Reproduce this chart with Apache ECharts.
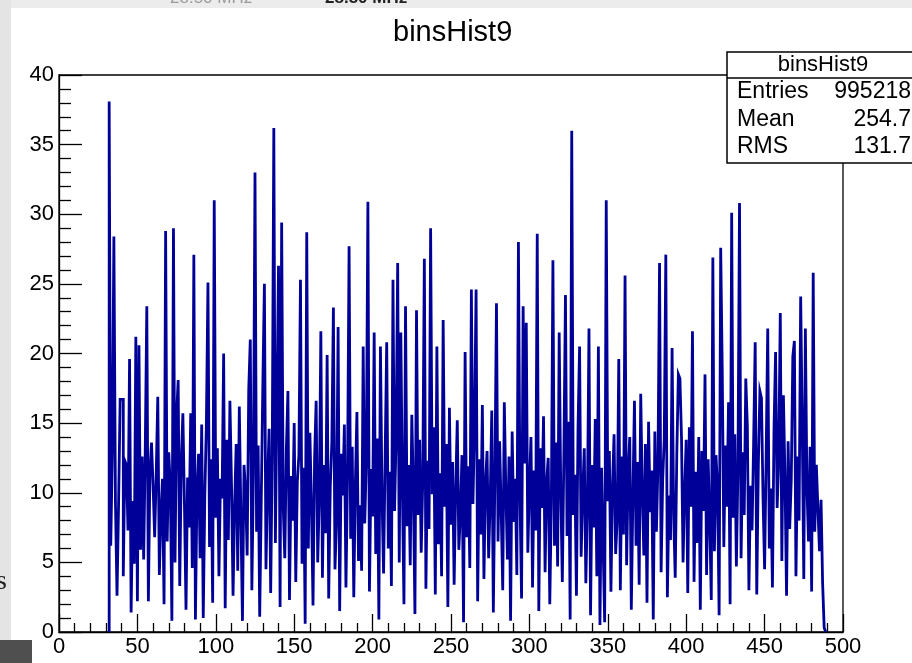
<!DOCTYPE html>
<html><head><meta charset="utf-8">
<script src="https://cdn.jsdelivr.net/npm/echarts@6.0.0/dist/echarts.min.js"></script>
<style>html,body{margin:0;padding:0;background:#fff;overflow:hidden}#c{width:912px;height:663px}</style>
</head><body><div id="c"></div>
<script>
const chartTitle = 'binsHist9';
const firstBin = 32;
const binWidth = 1;
const counts = [
38.1, 6.2, 12.8, 28.4, 9.3, 2.6, 9.2, 16.7, 16.7, 4.0,
12.3, 12.0, 7.3, 19.6, 1.4, 9.4, 4.9, 21.2, 2.2, 20.6,
5.9, 12.6, 5.2, 13.0, 23.4, 2.2, 11.6, 13.6, 10.5, 6.8,
11.3, 16.9, 4.1, 8.5, 11.0, 2.0, 28.8, 6.5, 12.9, 10.5,
0.8, 29.0, 5.0, 15.6, 18.1, 3.3, 12.3, 15.7, 9.2, 1.6,
11.1, 7.5, 15.7, 4.6, 27.1, 0.9, 10.0, 12.8, 5.3, 14.9,
1.0, 9.8, 15.0, 25.1, 6.1, 12.4, 2.1, 31.0, 8.2, 13.2,
4.0, 11.0, 9.6, 20.0, 1.7, 13.8, 6.6, 16.6, 10.7, 2.6,
9.1, 13.5, 4.4, 16.2, 8.3, 0.8, 12.0, 10.1, 5.5, 17.4,
21.0, 3.0, 11.5, 33.0, 7.2, 13.4, 1.1, 9.5, 17.8, 25.0,
4.5, 10.6, 14.6, 2.8, 12.9, 36.2, 6.4, 16.5, 26.3, 1.8,
29.4, 9.0, 5.3, 13.1, 17.3, 2.3, 11.2, 8.0, 15.0, 3.6,
10.8, 12.7, 25.3, 4.9, 11.8, 0.6, 28.7, 6.0, 14.3, 9.2,
1.9, 12.5, 16.6, 5.0, 9.6, 21.6, 3.9, 12.0, 7.1, 19.9,
2.4, 10.4, 13.6, 23.3, 4.5, 8.0, 21.9, 1.5, 12.8, 9.8,
14.9, 3.2, 11.1, 27.7, 6.7, 13.3, 2.5, 10.6, 15.8, 5.1,
9.1, 4.4, 20.5, 7.8, 12.4, 30.9, 2.9, 11.7, 8.3, 21.5,
5.6, 13.9, 0.9, 20.5, 9.7, 4.2, 12.6, 20.8, 6.0, 11.5,
3.3, 25.3, 8.7, 14.1, 26.5, 5.0, 21.5, 10.3, 2.0, 23.4,
7.6, 12.0, 4.8, 15.6, 10.2, 1.3, 23.1, 8.4, 13.8, 5.7,
10.9, 26.8, 3.1, 12.3, 7.4, 29.0, 9.9, 14.7, 2.7, 20.5,
6.3, 11.4, 4.0, 22.4, 9.0, 13.5, 1.8, 16.1, 7.7, 12.2,
3.4, 10.3, 15.2, 5.9, 8.6, 12.7, 0.7, 20.1, 6.8, 11.9,
4.6, 24.6, 9.2, 14.8, 24.6, 2.2, 12.4, 7.0, 16.3, 3.8,
10.7, 13.0, 5.3, 9.5, 15.9, 1.4, 11.2, 23.6, 6.5, 13.7,
8.8, 3.0, 16.5, 10.0, 5.2, 12.6, 0.8, 14.4, 7.9, 11.0,
4.1, 28.0, 9.6, 2.4, 23.4, 12.1, 22.2, 5.7, 10.4, 14.0,
3.2, 11.6, 7.3, 28.6, 1.5, 13.2, 8.9, 15.5, 4.3, 10.8,
12.5, 2.0, 9.3, 26.7, 6.2, 13.6, 4.7, 21.5, 10.1, 3.6,
12.9, 24.2, 6.9, 15.1, 0.9, 36.0, 8.4, 11.3, 2.6, 14.6,
20.5, 5.4, 10.0, 13.2, 3.5, 9.1, 21.8, 1.2, 12.0, 7.5,
15.3, 4.0, 20.5, 0.5, 11.8, 6.3, 0.7, 31.0, 9.4, 13.0,
2.9, 10.5, 14.2, 5.6, 8.1, 19.6, 3.0, 12.6, 7.0, 25.6,
4.8, 11.4, 14.0, 1.6, 9.7, 16.6, 6.2, 12.2, 3.4, 17.1,
10.0, 5.5, 13.5, 2.1, 15.1, 8.6, 11.6, 0.9, 14.4, 7.2,
12.0, 26.5, 4.3, 10.9, 13.9, 27.1, 2.5, 9.8, 6.6, 20.4,
8.4, 3.9, 12.7, 18.5, 18.2, 14.0, 5.0, 10.2, 13.8, 2.8,
14.7, 9.0, 21.6, 3.6, 11.5, 6.4, 14.0, 1.6, 13.0, 8.7,
18.5, 4.1, 12.4, 7.9, 2.3, 26.9, 5.8, 12.7, 10.3, 1.2,
27.6, 18.7, 6.1, 13.4, 9.0, 16.5, 2.0, 30.1, 8.2, 14.2,
4.7, 11.6, 30.8, 5.3, 12.9, 8.4, 18.2, 14.8, 3.0, 10.5,
7.3, 13.6, 20.8, 2.7, 11.9, 17.3, 16.8, 9.6, 4.5, 12.8,
21.8, 6.0, 10.3, 3.2, 14.6, 20.1, 8.9, 12.4, 22.9, 5.1,
17.0, 11.0, 2.6, 13.7, 7.4, 10.9, 19.8, 20.9, 4.0, 12.6,
8.0, 24.1, 14.9, 3.8, 21.8, 10.4, 6.5, 13.3, 2.9, 25.8,
7.2, 12.0, 8.9, 5.8, 9.5, 3.5, 0.3
];
const xRange = [0, 500];
const xStep = 50;
const yRange = [0, 40];
const yStep = 5;
const statsLabels = ['Entries', 'Mean', 'RMS'];
const statsValues = ['995218', '254.7', '131.7'];
const topTexts = ['28.50 MHz', '28.50 MHz'];

const FONT = '"Liberation Sans", Arial, Helvetica, sans-serif';
const pts = [[firstBin, 0]];
counts.forEach((c, i) => pts.push([firstBin + i * binWidth, c]));
const lastEdge = firstBin + counts.length * binWidth;
pts.push([lastEdge, counts[counts.length - 1]]);
pts.push([lastEdge, 0]);

function txt(x, y, text, opt) {
  const s = Object.assign({text: text, fill: '#000', font: '23px ' + FONT}, opt || {});
  s.textAlign = s.align || 'left';
  s.textVerticalAlign = s.verticalAlign || 'middle';
  s.align = s.textAlign; s.verticalAlign = s.textVerticalAlign;
  return {type: 'text', x: x, y: y, z: 110, style: s};
}

const statsY = [92, 119.5, 147];
const graphics = [
  {type: 'rect', shape: {x: 0, y: 0, width: 912, height: 8}, style: {fill: '#ececec'}, z: 1},
  {type: 'rect', shape: {x: 0, y: 0, width: 11, height: 640}, style: {fill: '#e4e4e4'}, z: 1},
  {type: 'rect', shape: {x: 0, y: 640, width: 32, height: 23}, style: {fill: '#4f4f4f'}, z: 1},
  txt(170, 7, topTexts[0], {fill: '#9a9a9a', font: '17px ' + FONT, verticalAlign: 'bottom'}),
  txt(325, 7, topTexts[1], {fill: '#222', font: 'bold 17px ' + FONT, verticalAlign: 'bottom'}),
  txt(-4, 582, 's', {fill: '#222', font: '28px "Liberation Serif", serif'}),
  {type: 'rect', z: 100, shape: {x: 727, y: 52, width: 200, height: 111},
   style: {fill: '#fff', stroke: '#000', lineWidth: 1.5}},
  {type: 'line', z: 101, shape: {x1: 727, y1: 78, x2: 912, y2: 78}, style: {stroke: '#000', lineWidth: 1.5}},
  txt(823, 65, chartTitle, {align: 'center', font: '22px ' + FONT})
];
statsLabels.forEach((l, i) => {
  graphics.push(txt(737, statsY[i], l));
  graphics.push(txt(911, statsY[i], statsValues[i], {align: 'right'}));
});

const chart = echarts.init(document.getElementById('c'), null, {renderer: 'canvas'});
chart.setOption({
  animation: false,
  backgroundColor: '#fff',
  title: {text: chartTitle, left: 388, top: 13,
    textStyle: {fontFamily: FONT, fontSize: 29, fontWeight: 'normal', color: '#000'}},
  grid: {left: 59, right: 69, top: 75, bottom: 31, show: true, borderColor: '#000', borderWidth: 1.3, backgroundColor: 'transparent'},
  xAxis: {
    type: 'value', min: xRange[0], max: xRange[1], interval: xStep,
    axisLine: {lineStyle: {color: '#000', width: 1.3}},
    axisTick: {inside: true, length: 18, lineStyle: {color: '#000', width: 1.3}},
    minorTick: {show: true, splitNumber: 5, length: 9, lineStyle: {color: '#000', width: 1.3}},
    splitLine: {show: false},
    axisLabel: {color: '#000', fontFamily: FONT, fontSize: 22, margin: 4}
  },
  yAxis: {
    type: 'value', min: yRange[0], max: yRange[1], interval: yStep,
    axisLine: {show: true, lineStyle: {color: '#000', width: 1.3}},
    axisTick: {show: true, inside: true, length: 23, lineStyle: {color: '#000', width: 1.3}},
    minorTick: {show: true, splitNumber: 5, length: 12, lineStyle: {color: '#000', width: 1.3}},
    splitLine: {show: false},
    axisLabel: {color: '#000', fontFamily: FONT, fontSize: 22, margin: 5}
  },
  series: [{
    type: 'line', step: 'end', data: pts, symbol: 'none', showSymbol: false,
    lineStyle: {color: '#000099', width: 2.8, join: 'miter', cap: 'butt'}, z: 5
  }],
  graphic: graphics
});
</script>
</body></html>
